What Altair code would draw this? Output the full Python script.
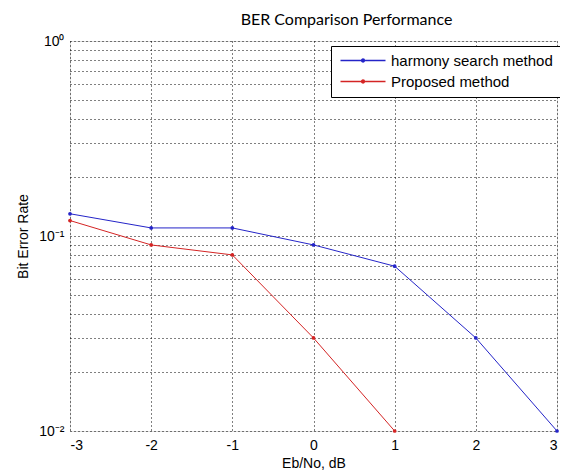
import altair as alt
import pandas as pd

# ---- data ----
x_harmony = [-3, -2, -1, 0, 1, 2, 3]
ber_harmony = [0.13, 0.11, 0.11, 0.09, 0.07, 0.03, 0.01]
x_proposed = [-3, -2, -1, 0, 1]
ber_proposed = [0.12, 0.09, 0.08, 0.03, 0.01]
series_names = ["harmony search method", "Proposed method"]
series_colors = ["#2424c8", "#d42424"]
x_ticks = [-3, -2, -1, 0, 1, 2, 3]
y_grid = [0.01, 0.02, 0.03, 0.04, 0.05, 0.06, 0.07, 0.08, 0.09,
          0.1, 0.2, 0.3, 0.4, 0.5, 0.6, 0.7, 0.8, 0.9, 1]

df = pd.concat([
    pd.DataFrame({"x": x_harmony, "ber": ber_harmony, "method": series_names[0]}),
    pd.DataFrame({"x": x_proposed, "ber": ber_proposed, "method": series_names[1]}),
], ignore_index=True)

FONT = "Liberation Sans"

color = alt.Color(
    "method:N",
    scale=alt.Scale(domain=series_names, range=series_colors),
    sort=series_names,
    legend=alt.Legend(
        title=None,
        orient="none",
        legendX=261,
        legendY=5,
        direction="vertical",
        fillColor="white",
        strokeColor="black",
        padding=7,
        symbolType="M-1,0H8M3.2,0A0.3,0.3,0,1,1,3.8,0A0.3,0.3,0,1,1,3.2,0Z",
        symbolSize=100,
        symbolStrokeWidth=1.3,
        labelOffset=38,
        labelLimit=400,
        labelFont=FONT,
        labelFontSize=15,
        labelColor="black",
        rowPadding=5,
    ),
)

xenc = alt.X(
    "x:Q",
    scale=alt.Scale(domain=[-3, 3], nice=False, zero=False),
    axis=alt.Axis(
        title="Eb/No, dB",
        values=x_ticks,
        labelExpr="'' + datum.value",
        grid=True,
        gridDash=[1, 3],
        gridColor="black",
        gridOpacity=1,
        ticks=False,
        domain=False,
        labelFont=FONT,
        labelFontSize=14,
        labelColor="black",
        labelPadding=7,
        titleFont=FONT,
        titleFontSize=14,
        titleFontWeight="normal",
        titleColor="black",
        titlePadding=4,
    ),
)

yenc = alt.Y(
    "ber:Q",
    scale=alt.Scale(type="log", domain=[0.01, 1], nice=False),
    axis=alt.Axis(
        title="Bit Error Rate",
        values=y_grid,
        labelExpr="datum.value == 1 ? '10⁰' : (datum.value == 0.1 ? '10⁻¹' : (datum.value == 0.01 ? '10⁻²' : ''))",
        grid=True,
        gridDash=[1, 3],
        gridColor="black",
        gridOpacity=1,
        ticks=False,
        domain=False,
        labelFont=FONT,
        labelFontSize=14,
        labelColor="black",
        labelPadding=6,
        labelOverlap=False,
        titleFont=FONT,
        titleFontSize=14,
        titleFontWeight="normal",
        titleColor="black",
        titlePadding=8,
    ),
)

lines = alt.Chart(df).mark_line(strokeWidth=1).encode(
    x=xenc, y=yenc, color=color, order="x:Q"
)
points = alt.Chart(df).mark_point(filled=True, size=14, opacity=1).encode(
    x="x:Q", y="ber:Q", color=alt.Color("method:N", legend=None)
)

chart = (
    alt.layer(lines, points)
    .properties(
        width=487,
        height=390,
        autosize=alt.AutoSizeParams(type="none"),
        padding={"left": 62, "top": 33, "right": 3, "bottom": 42},
        title=alt.TitleParams(
            "BER Comparison Performance",
            font="Lato",
            fontSize=16,
            fontWeight="normal",
            color="black",
            anchor="middle",
            frame="group",
            dx=33,
            offset=6,
        ),
    )
    .configure_view(stroke="black", strokeWidth=1)
    .configure(background="white")
)

chart.save("out.html", embed_options={"renderer": "svg", "actions": False})
